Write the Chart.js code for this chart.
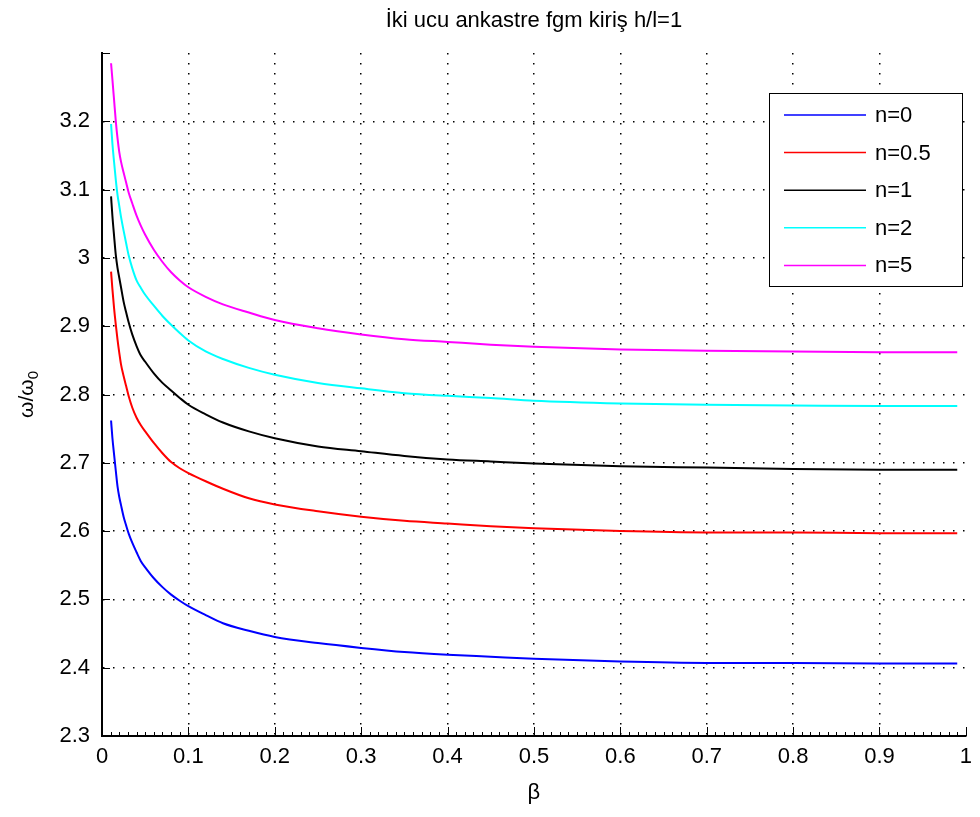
<!DOCTYPE html>
<html>
<head>
<meta charset="utf-8">
<script src="https://cdn.jsdelivr.net/npm/chart.js@4.4.1/dist/chart.umd.min.js"></script>
<style>
  html, body { margin: 0; padding: 0; background: #fff; }
  #wrap { width: 980px; height: 817px; }
</style>
</head>
<body>
<div id="wrap"><canvas id="c" width="980" height="817"></canvas></div>
<script>
// β values at which the frequency ratio was evaluated
const beta = [0.0105, 0.012, 0.014, 0.016, 0.018, 0.020, 0.022, 0.025, 0.028, 0.031,
              0.035, 0.040, 0.045, 0.050, 0.060, 0.070, 0.080, 0.090, 0.100, 0.120,
              0.140, 0.170, 0.200, 0.250, 0.300, 0.350, 0.400, 0.450, 0.500, 0.600,
              0.700, 0.800, 0.900, 0.990];

// ω/ω0 for each power-law index n
const ratioN0 = [2.762, 2.737, 2.712, 2.688, 2.665, 2.650, 2.638, 2.621, 2.608, 2.596,
                 2.583, 2.569, 2.556, 2.547, 2.531, 2.518, 2.507, 2.498, 2.490, 2.477,
                 2.465, 2.454, 2.445, 2.436, 2.429, 2.423, 2.419, 2.416, 2.413, 2.409,
                 2.407, 2.407, 2.406, 2.406];
const ratioN05 = [2.980, 2.955, 2.926, 2.902, 2.880, 2.861, 2.844, 2.827, 2.812, 2.797,
                  2.781, 2.766, 2.755, 2.746, 2.729, 2.714, 2.701, 2.692, 2.685, 2.673,
                  2.662, 2.648, 2.639, 2.629, 2.621, 2.615, 2.611, 2.607, 2.604, 2.600,
                  2.598, 2.598, 2.597, 2.597];
const ratioN1 = [3.090, 3.062, 3.032, 3.004, 2.985, 2.971, 2.957, 2.936, 2.920, 2.905,
                 2.888, 2.871, 2.857, 2.848, 2.831, 2.817, 2.806, 2.795, 2.785, 2.771,
                 2.759, 2.746, 2.736, 2.724, 2.717, 2.710, 2.705, 2.702, 2.699, 2.695,
                 2.693, 2.691, 2.690, 2.690];
const ratioN2 = [3.196, 3.168, 3.140, 3.114, 3.092, 3.076, 3.060, 3.040, 3.021, 3.003,
                 2.985, 2.967, 2.956, 2.946, 2.930, 2.915, 2.902, 2.890, 2.879, 2.863,
                 2.852, 2.839, 2.829, 2.817, 2.809, 2.802, 2.798, 2.795, 2.791, 2.787,
                 2.785, 2.784, 2.783, 2.783];
const ratioN5 = [3.285, 3.262, 3.231, 3.200, 3.175, 3.155, 3.141, 3.125, 3.110, 3.095,
                 3.080, 3.062, 3.047, 3.034, 3.012, 2.994, 2.979, 2.967, 2.957, 2.943,
                 2.932, 2.920, 2.909, 2.897, 2.888, 2.881, 2.877, 2.873, 2.870, 2.866,
                 2.864, 2.863, 2.862, 2.862];

const seriesLabels = ['n=0', 'n=0.5', 'n=1', 'n=2', 'n=5'];
const seriesColors = ['#0000ff', '#ff0000', '#000000', '#00ffff', '#ff00ff'];
const seriesValues = [ratioN0, ratioN05, ratioN1, ratioN2, ratioN5];

const xTickValues = [0, 0.1, 0.2, 0.3, 0.4, 0.5, 0.6, 0.7, 0.8, 0.9, 1];
const yTickValues = [2.3, 2.4, 2.5, 2.6, 2.7, 2.8, 2.9, 3, 3.1, 3.2];

const titleText = 'İki ucu ankastre fgm kiriş h/l=1';
const xTitle = 'β';

const FONT = '"Liberation Sans", Arial, sans-serif';

const datasets = seriesValues.map((vals, i) => ({
  label: seriesLabels[i],
  data: beta.map((b, k) => ({ x: b, y: vals[k] })),
  borderColor: seriesColors[i],
  backgroundColor: seriesColors[i],
  borderWidth: 2,
  pointRadius: 0,
  cubicInterpolationMode: 'monotone',
  fill: false
}));

function near(a, b) { return Math.abs(a - b) < 1e-6; }

// Inward tick marks, titles and the boxed legend
const decorations = {
  id: 'decorations',
  afterDraw(chart) {
    const { ctx, chartArea: ca, scales: { x, y } } = chart;
    ctx.save();
    ctx.strokeStyle = '#000';
    ctx.lineWidth = 1;
    // x major and minor ticks
    for (let i = 0; i <= 100; i++) {
      const px = Math.round(x.getPixelForValue(i / 100)) + 0.5;
      const len = (i % 10 === 0) ? 9 : 4;
      ctx.beginPath();
      ctx.moveTo(px, ca.bottom);
      ctx.lineTo(px, ca.bottom - len);
      ctx.stroke();
    }
    // y major ticks
    for (let i = 0; i <= 10; i++) {
      const py = Math.round(y.getPixelForValue(2.3 + i / 10)) + 0.5;
      ctx.beginPath();
      ctx.moveTo(ca.left, py);
      ctx.lineTo(ca.left + 8, py);
      ctx.stroke();
    }

    // title
    ctx.fillStyle = '#000';
    ctx.font = '22px ' + FONT;
    ctx.textAlign = 'center';
    ctx.textBaseline = 'middle';
    ctx.fillText(titleText, (ca.left + ca.right) / 2, 21);

    // x axis title
    ctx.font = '22px ' + FONT;
    ctx.fillText(xTitle, (ca.left + ca.right) / 2, 793);

    // y axis title: ω/ω0 rotated
    ctx.save();
    ctx.translate(27, (ca.top + ca.bottom) / 2);
    ctx.rotate(-Math.PI / 2);
    const main = 'ω/ω';
    ctx.font = '21px ' + FONT;
    const wMain = ctx.measureText(main).width;
    ctx.font = '15px ' + FONT;
    const wSub = ctx.measureText('0').width;
    const start = -(wMain + wSub) / 2;
    ctx.textAlign = 'left';
    ctx.font = '21px ' + FONT;
    ctx.fillText(main, start, 0);
    ctx.font = '15px ' + FONT;
    ctx.fillText('0', start + wMain, 7);
    ctx.restore();

    // legend
    const lx = 769, ly = 93, lw = 193, lh = 193;
    ctx.fillStyle = '#fff';
    ctx.fillRect(lx, ly, lw, lh);
    ctx.strokeStyle = '#000';
    ctx.lineWidth = 1;
    ctx.strokeRect(lx + 0.5, ly + 0.5, lw, lh);
    ctx.font = '22px ' + FONT;
    ctx.textAlign = 'left';
    ctx.textBaseline = 'middle';
    chart.data.datasets.forEach((ds, i) => {
      const ry = 115 + i * 37.6;
      ctx.strokeStyle = ds.borderColor;
      ctx.lineWidth = 1.5;
      ctx.beginPath();
      ctx.moveTo(784, ry);
      ctx.lineTo(866, ry);
      ctx.stroke();
      ctx.fillStyle = '#000';
      ctx.fillText(ds.label, 875, ry + 1);
    });
    ctx.restore();
  }
};

new Chart(document.getElementById('c'), {
  type: 'line',
  data: { datasets },
  options: {
    responsive: false,
    animation: false,
    devicePixelRatio: 1,
    layout: { padding: { top: 53, right: 7, left: 0, bottom: 0 } },
    plugins: { legend: { display: false }, title: { display: false }, tooltip: { enabled: false } },
    scales: {
      x: {
        type: 'linear',
        min: 0, max: 1,
        afterFit(scale) { scale.height = 81; },
        afterBuildTicks(scale) { scale.ticks = xTickValues.map(v => ({ value: v })); },
        ticks: {
          padding: 8,
          color: '#000',
          font: { family: FONT, size: 22 },
          maxRotation: 0,
          callback: v => String(Math.round(v * 10) / 10)
        },
        grid: {
          drawTicks: false,
          color: ctx => (ctx.tick && (near(ctx.tick.value, 0) || near(ctx.tick.value, 1))) ? 'rgba(0,0,0,0)' : '#000',
          lineWidth: 1.5
        },
        border: { display: true, color: '#000', width: 2, dash: [1.5, 8.5] }
      },
      y: {
        type: 'linear',
        min: 2.3, max: 3.3,
        afterFit(scale) { scale.width = 102; },
        afterBuildTicks(scale) { scale.ticks = yTickValues.map(v => ({ value: v })); },
        ticks: {
          padding: 12,
          color: '#000',
          font: { family: FONT, size: 22 },
          callback: v => String(Math.round(v * 10) / 10)
        },
        grid: {
          drawTicks: false,
          color: ctx => (ctx.tick && (near(ctx.tick.value, 2.3) || near(ctx.tick.value, 3.3))) ? 'rgba(0,0,0,0)' : '#000',
          lineWidth: 1.5
        },
        border: { display: true, color: '#000', width: 2, dash: [1.5, 8.5] }
      }
    }
  },
  plugins: [decorations]
});
</script>
</body>
</html>
